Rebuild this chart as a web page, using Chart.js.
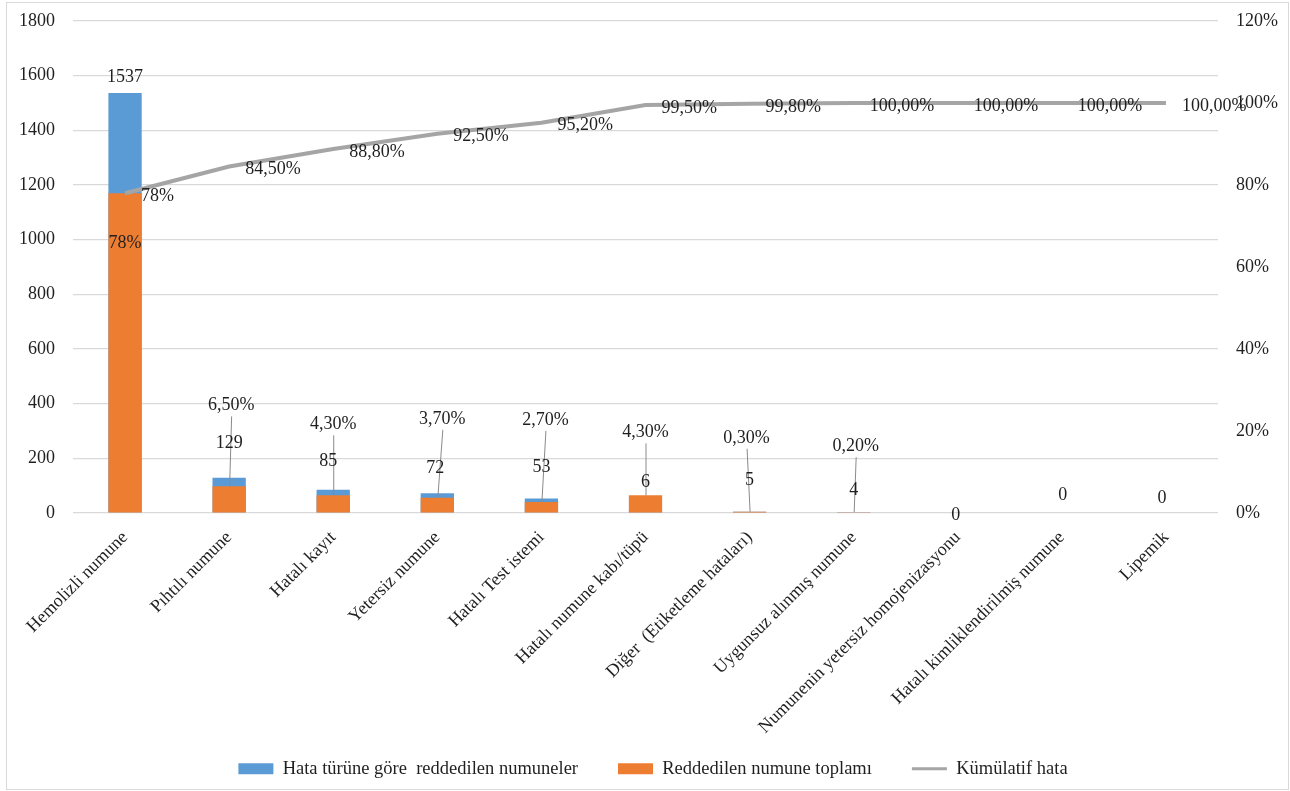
<!DOCTYPE html>
<html>
<head>
<meta charset="utf-8">
<script src="https://cdn.jsdelivr.net/npm/chart.js@4.4.1/dist/chart.umd.min.js"></script>
<style>
  html, body { margin: 0; padding: 0; background: #ffffff; }
  #wrap { width: 1290px; height: 791px; }
</style>
</head>
<body>
<div id="wrap"><canvas id="c" width="1290" height="791"></canvas></div>
<script>
// Rejection categories, in Pareto order
const categories = [
  'Hemolizli numune', 'Pıhtılı numune', 'Hatalı kayıt', 'Yetersiz numune',
  'Hatalı Test istemi', 'Hatalı numune kabı/tüpü', 'Diğer  (Etiketleme hataları)',
  'Uygunsuz alınmış numune', 'Numunenin yetersiz homojenizasyonu',
  'Hatalı kimliklendirilmiş numune', 'Lipemik'
];
// Rejected sample counts per error type (left axis)
const rejectedCounts = [1537, 129, 85, 72, 53, 6, 5, 4, 0, 0, 0];
// Share of all rejected samples, % (right axis)
const rejectedShare = [78, 6.5, 4.3, 3.7, 2.7, 4.3, 0.3, 0.2, 0, 0, 0];
// Cumulative share, % (right axis)
const cumulativeShare = [78, 84.5, 88.8, 92.5, 95.2, 99.5, 99.8, 100, 100, 100, 100];
// Axis ticks
const countTicks = [0, 200, 400, 600, 800, 1000, 1200, 1400, 1600, 1800];
const percentTicks = [0, 20, 40, 60, 80, 100, 120];

const seriesNames = ['Hata türüne göre  reddedilen numuneler', 'Reddedilen numune toplamı', 'Kümülatif hata'];

// Label placement (pixels above the mark's top; negative = inside the bar)
const countLabelLift  = [16, 34, 29, 25, 31, 29, 31, 22, -2, 18, 15];
const countLabelShift = [0, 0, -5, -2, 0, 0, 0, 0, -2, 1, -4];
const shareLabelLift  = [-50, 81, 71, 79, 82, 63, 74, 66, null, null, null];
const shareLabelShift = [0, 2, 0, 5, 4, 0, -3, 2, 0, 0, 0];

const FONT = '"Liberation Serif", "Times New Roman", serif';
const TEXT = '#1f1f1f';
const CLEAR = 'rgba(0,0,0,0)';

function fmtShare(v, i) {
  // the leading category is printed as a whole percent
  return i === 0 ? v + '%' : v.toFixed(2).replace('.', ',') + '%';
}

const frame = {
  id: 'frame',
  beforeDraw(chart) {
    const ctx = chart.ctx;
    ctx.save();
    ctx.fillStyle = '#ffffff';
    ctx.fillRect(0, 0, chart.width, chart.height);
    ctx.strokeStyle = '#d9d9d9';
    ctx.lineWidth = 1;
    ctx.strokeRect(6.5, 2.5, chart.width - 8, chart.height - 4);
    ctx.restore();
  },
  afterLayout(chart) {
    // let the long rotated category names run past the axis box
    chart.scales.x.bottom = chart.height;
  }
};

const valueLabels = {
  id: 'valueLabels',
  afterDatasetsDraw(chart) {
    const ctx = chart.ctx;
    const xs = chart.scales.x, yl = chart.scales.y, yr = chart.scales.y1;
    ctx.save();
    ctx.font = '18px ' + FONT;
    ctx.textBaseline = 'middle';

    // leader lines from share labels down to the bar top
    ctx.strokeStyle = '#8a8a8a';
    ctx.lineWidth = 1;
    rejectedShare.forEach((v, i) => {
      const lift = shareLabelLift[i];
      if (lift == null || lift <= 0) return;
      const bx = xs.getPixelForValue(i);
      const top = yr.getPixelForValue(v);
      const lx = bx + shareLabelShift[i];
      const ly = top - lift;
      ctx.beginPath();
      ctx.moveTo(lx + 0.5, ly + 11);
      ctx.lineTo(bx + 0.5, top);
      ctx.stroke();
    });

    ctx.fillStyle = TEXT;
    ctx.textAlign = 'center';
    // share labels
    rejectedShare.forEach((v, i) => {
      const lift = shareLabelLift[i];
      if (lift == null) return;
      const bx = xs.getPixelForValue(i);
      const top = yr.getPixelForValue(v);
      ctx.fillText(fmtShare(v, i), bx + shareLabelShift[i], top - lift);
    });
    // count labels
    rejectedCounts.forEach((v, i) => {
      const bx = xs.getPixelForValue(i);
      const top = yl.getPixelForValue(v);
      ctx.fillText(String(v), bx + countLabelShift[i], top - countLabelLift[i]);
    });
    // cumulative labels, to the right of each point
    ctx.textAlign = 'left';
    cumulativeShare.forEach((v, i) => {
      const px = xs.getPixelForValue(i);
      const py = yr.getPixelForValue(v);
      ctx.fillText(fmtShare(v, i), px + 16, py + 3);
    });
    ctx.restore();
  }
};

const legendSymbols = (chart) => {
  const items = Chart.defaults.plugins.legend.labels.generateLabels(chart);
  items.forEach(it => {
    const ds = chart.data.datasets[it.datasetIndex];
    if (ds.type === 'line') { it.pointStyle = 'line'; it.lineWidth = 3; it.strokeStyle = ds.borderColor; }
    else { it.pointStyle = 'rect'; it.lineWidth = 0; }
  });
  return items;
};

new Chart(document.getElementById('c'), {
  data: {
    labels: categories,
    datasets: [
      {
        type: 'bar', label: seriesNames[0], data: rejectedCounts, yAxisID: 'y',
        backgroundColor: '#5b9bd5', borderWidth: 0, grouped: false,
        categoryPercentage: 1, barPercentage: 0.32, order: 2
      },
      {
        type: 'bar', label: seriesNames[1], data: rejectedShare, yAxisID: 'y1',
        backgroundColor: '#ed7d31', borderWidth: 0, grouped: false,
        categoryPercentage: 1, barPercentage: 0.32, order: 1
      },
      {
        type: 'line', label: seriesNames[2], data: cumulativeShare, yAxisID: 'y1',
        borderColor: '#a5a5a5', backgroundColor: '#a5a5a5', borderWidth: 4,
        pointRadius: 0, tension: 0, fill: false, order: 0
      }
    ]
  },
  options: {
    responsive: false,
    animation: false,
    devicePixelRatio: 1,
    layout: { padding: { top: 21, left: 16, right: 0, bottom: 3 } },
    plugins: {
      tooltip: { enabled: false },
      legend: {
        position: 'bottom',
        labels: {
          font: { family: FONT, size: 18.5 },
          color: TEXT,
          usePointStyle: true,
          pointStyleWidth: 35,
          boxHeight: 11,
          padding: 40,
          generateLabels: legendSymbols,
          sort: (a, b) => a.datasetIndex - b.datasetIndex
        }
      }
    },
    scales: {
      x: {
        offset: true,
        grid: { display: false, drawTicks: false },
        border: { display: false },
        ticks: {
          autoSkip: false, maxRotation: 45, minRotation: 45, padding: 14,
          font: { family: FONT, size: 18 }, color: TEXT
        },
        afterFit(scale) { scale.height = 206.5; }
      },
      y: {
        position: 'left',
        min: countTicks[0], max: countTicks[countTicks.length - 1],
        afterBuildTicks(scale) { scale.ticks = countTicks.map(v => ({ value: v })); },
        grid: { color: '#d9d9d9', lineWidth: 1.3, drawTicks: true, tickLength: 18, tickColor: CLEAR },
        border: { display: false },
        ticks: { padding: 0, font: { family: FONT, size: 18 }, color: TEXT, callback: v => String(v) },
        afterFit(scale) { scale.width = 57; }
      },
      y1: {
        position: 'right',
        min: percentTicks[0], max: percentTicks[percentTicks.length - 1],
        afterBuildTicks(scale) { scale.ticks = percentTicks.map(v => ({ value: v })); },
        grid: { display: true, color: CLEAR, drawOnChartArea: false, drawTicks: true, tickLength: 18, tickColor: CLEAR },
        border: { display: false },
        ticks: { padding: 0, font: { family: FONT, size: 18 }, color: TEXT, callback: v => v + '%' },
        afterFit(scale) { scale.width = 72; }
      }
    }
  },
  plugins: [frame, valueLabels]
});
</script>
</body>
</html>
